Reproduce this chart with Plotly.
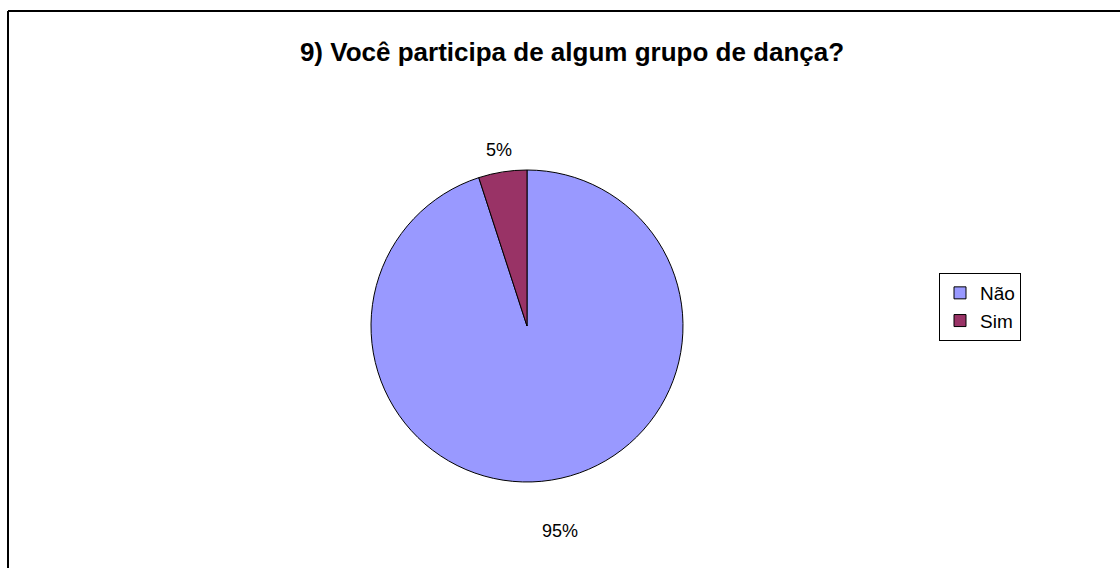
import math
import plotly.graph_objects as go

# Survey answers and their shares (%)
labels = ["Não", "Sim"]
values = [95, 5]
colors = ["#9999FF", "#993366"]
title_text = "9) Você participa de algum grupo de dança?"

W, H = 1120, 568
CX, CY, R = 527, 326, 156  # pie centre and radius in pixels
FONT = "Liberation Sans, Arial"

fig = go.Figure()
fig.add_trace(go.Pie(
    labels=labels,
    values=values,
    sort=False,
    direction="clockwise",
    rotation=0,
    marker=dict(colors=colors, line=dict(color="black", width=1)),
    textinfo="none",
    hoverinfo="label+percent",
    domain=dict(x=[(CX - R) / W, (CX + R) / W],
                y=[(H - CY - R) / H, (H - CY + R) / H]),
))

# Percentage labels placed outside each slice at the mid-angle
label_gap = [52, 22]
total = sum(values)
cum = 0
for v, gap in zip(values, label_gap):
    mid = (cum + v / 2) / total * 2 * math.pi
    cum += v
    d = R + gap
    px = CX + d * math.sin(mid)
    py = CY - d * math.cos(mid)
    fig.add_annotation(
        x=px / W, y=1 - py / H, xref="paper", yref="paper",
        text=f"{round(v / total * 100)}%", showarrow=False,
        font=dict(family=FONT, size=18, color="black"),
        xanchor="center", yanchor="middle",
    )

# Chart frame: left and top edges
frame = dict(color="black", width=2)
fig.add_shape(type="line", xref="paper", yref="paper",
              x0=8 / W, x1=8 / W, y0=0, y1=1 - 11 / H, line=frame)
fig.add_shape(type="line", xref="paper", yref="paper",
              x0=8 / W, x1=1, y0=1 - 11 / H, y1=1 - 11 / H, line=frame)

fig.update_layout(
    width=W, height=H,
    margin=dict(l=0, r=0, t=0, b=0),
    paper_bgcolor="white",
    plot_bgcolor="white",
    title=dict(text=f"<b>{title_text}</b>", x=572 / W, xanchor="center",
               y=1 - 52 / H, yanchor="middle",
               font=dict(family=FONT, size=26, color="black")),
    showlegend=True,
    legend=dict(
        x=939 / W, y=1 - 273 / H, xanchor="left", yanchor="top",
        bordercolor="black", borderwidth=1, bgcolor="white",
        font=dict(family=FONT, size=19, color="black"),
        traceorder="normal", itemwidth=30,
    ),
)

fig.write_html("out.html")
